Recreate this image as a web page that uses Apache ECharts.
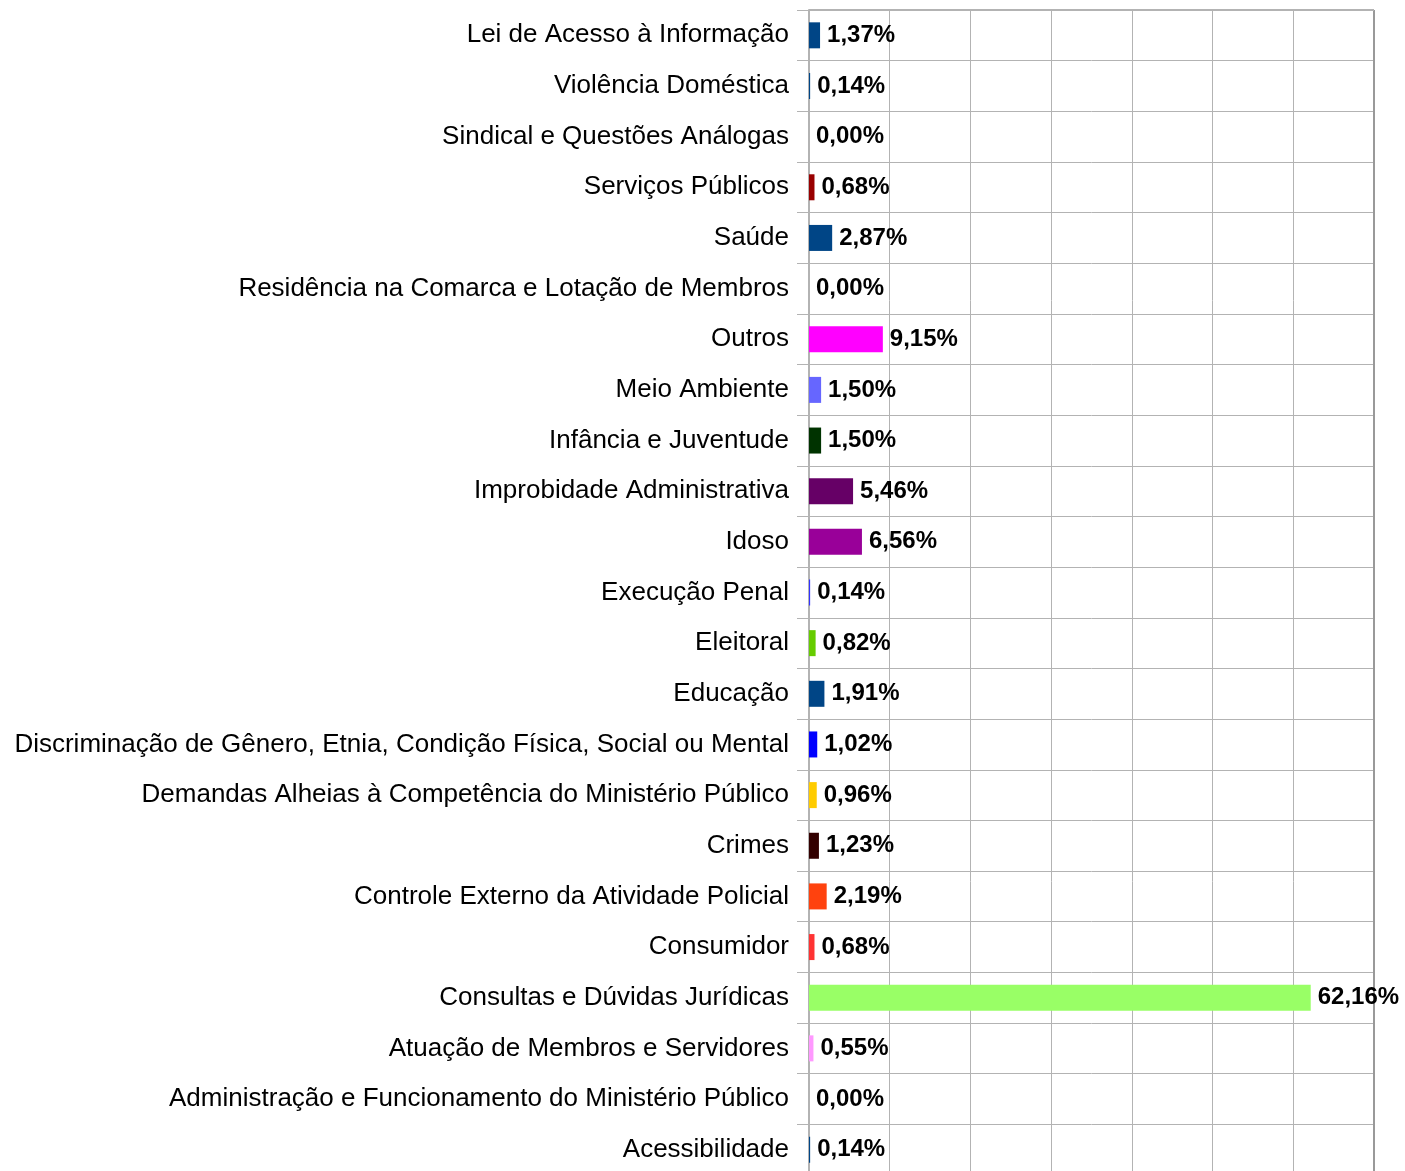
<!DOCTYPE html>
<html>
<head>
<meta charset="utf-8">
<script src="https://cdn.jsdelivr.net/npm/echarts@6/dist/echarts.min.js"></script>
<style>
  html, body { margin: 0; padding: 0; background: #fff; }
  #chart { width: 1405px; height: 1171px; }
</style>
</head>
<body>
<div id="chart"></div>
<script>
// categories from bottom to top
const categories = [
  'Acessibilidade',
  'Administração e Funcionamento do Ministério Público',
  'Atuação de Membros e Servidores',
  'Consultas e Dúvidas Jurídicas',
  'Consumidor',
  'Controle Externo da Atividade Policial',
  'Crimes',
  'Demandas Alheias à Competência do Ministério Público',
  'Discriminação de Gênero, Etnia, Condição Física, Social ou Mental',
  'Educação',
  'Eleitoral',
  'Execução Penal',
  'Idoso',
  'Improbidade Administrativa',
  'Infância e Juventude',
  'Meio Ambiente',
  'Outros',
  'Residência na Comarca e Lotação de Membros',
  'Saúde',
  'Serviços Públicos',
  'Sindical e Questões Análogas',
  'Violência Doméstica',
  'Lei de Acesso à Informação'
]
const percentages = [
  0.14, 0.00, 0.55, 62.16, 0.68, 2.19, 1.23, 0.96, 1.02, 1.91, 0.82, 0.14,
  6.56, 5.46, 1.50, 1.50, 9.15, 0.00, 2.87, 0.68, 0.00, 0.14, 1.37
]
const barColors = [
  '#004586', '#004586', '#ff99ff', '#99ff66', '#ff3333', '#ff420e', '#330000',
  '#ffcc00', '#0000ff', '#004586', '#66cc00', '#3333ff', '#990099', '#660066',
  '#003300', '#6666ff', '#ff00ff', '#004586', '#004586', '#990000', '#004586',
  '#004586', '#004586'
]

const chart = echarts.init(document.getElementById('chart'))
const options = {
  animation: false,
  grid: {
    left: 809,
    width: 565,
    top: 10,
    height: 1165,
    outerBoundsMode: 'none'
  },
  xAxis: {
    type: 'value',
    min: 0,
    max: 70,
    interval: 10,
    axisLabel: { show: false },
    axisLine: { show: false },
    axisTick: { show: false },
    splitLine: { show: true, lineStyle: { color: '#b3b3b3', width: 1 } }
  },
  yAxis: {
    type: 'category',
    data: categories,
    axisLine: { show: true, lineStyle: { color: '#b3b3b3', width: 2 } },
    axisTick: { show: true, length: 12, lineStyle: { color: '#b3b3b3' } },
    splitLine: { show: true, lineStyle: { color: '#b3b3b3', width: 1 } },
    axisLabel: {
      margin: 20,
      color: '#000',
      fontFamily: 'Liberation Sans',
      fontSize: 26
    }
  },
  series: [
    {
      type: 'bar',
      barWidth: 26,
      data: percentages.map((v, i) => ({ value: v, itemStyle: { color: barColors[i] } })),
      label: {
        show: true,
        position: 'right',
        distance: 7,
        color: '#000',
        fontFamily: 'Liberation Sans',
        fontWeight: 'bold',
        fontSize: 24,
        formatter: p => p.value.toFixed(2).replace('.', ',') + '%'
      }
    }
  ]
}
chart.setOption(options)
// right border of the plot area
chart.setOption({
  graphic: [{
    type: 'line',
    shape: { x1: 1374, y1: 10, x2: 1374, y2: 1171 },
    style: { stroke: '#999', lineWidth: 2 }
  }, {
    type: 'line',
    shape: { x1: 809, y1: 10, x2: 1374, y2: 10 },
    style: { stroke: '#b3b3b3', lineWidth: 2 }
  }]
})
</script>
</body>
</html>
